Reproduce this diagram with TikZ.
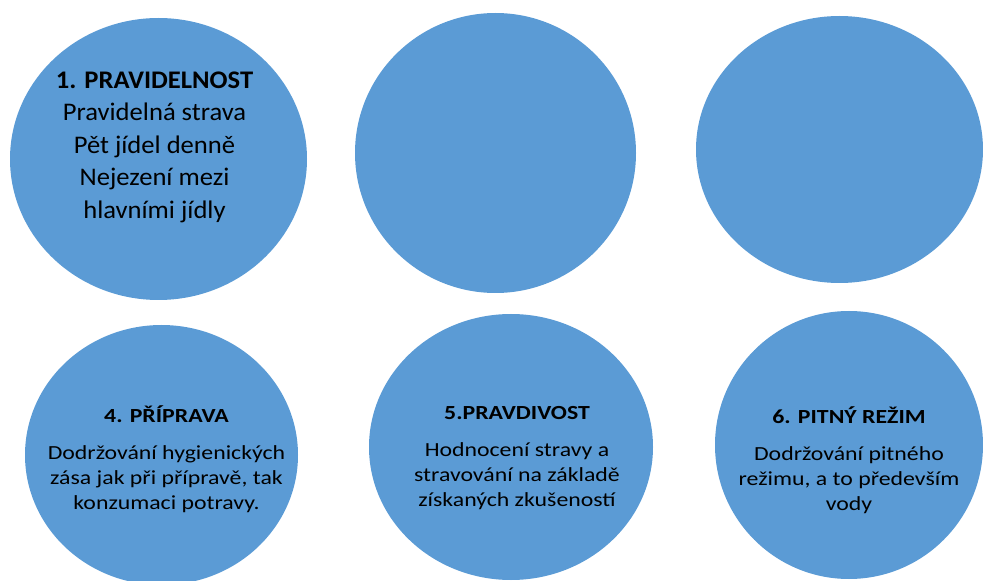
\documentclass[tikz,border=0pt]{standalone}
\usepackage{fontspec}
\setmainfont{Carlito}
\newfontfamily\bigfont[FakeStretch=1.05]{Carlito}
\newfontfamily\smallfont[FakeStretch=1.19]{Carlito}
\usetikzlibrary{shapes.geometric}
\definecolor{circblue}{RGB}{91,155,213}
\tikzset{
  circ/.style={ellipse, fill=circblue, draw=none, inner sep=0pt},
  bigtext/.style={align=center, inner sep=0.75pt, font=\bigfont\fontsize{19}{24.4}\selectfont},
  smalltext/.style={align=center, inner sep=0.75pt, font=\smallfont\fontsize{15}{18.75}\selectfont}
}

\begin{document}
\begin{tikzpicture}[x=0.75pt,y=0.75pt,yscale=-1,xscale=1]
\useasboundingbox (0,0) rectangle (983,581);

%Shape: Ellipse
\node [circ, minimum width=222.75pt, minimum height=211.5pt] (prav) at (158.5,159) {};
%Shape: Ellipse
\node [circ, minimum width=210.75pt, minimum height=210pt] (druhy) at (495.5,153) {};
%Shape: Ellipse
\node [circ, minimum width=215.25pt, minimum height=200.25pt] (treti) at (839.5,149.5) {};
%Shape: Ellipse
\node [circ, minimum width=204.75pt, minimum height=195pt] (prip) at (161.5,455) {};
%Shape: Ellipse
\node [circ, minimum width=213pt, minimum height=199.5pt] (pravd) at (511,447) {};
%Shape: Ellipse
\node [circ, minimum width=201pt, minimum height=201pt] (pitny) at (849,445) {};

% Text Node
\node [bigtext] (pravtxt) at (154.5,147) {\textbf{1. PRAVIDELNOST}\\Pravidelná strava\\Pět jídel denně\\Nejezení mezi\\hlavními jídly};
% Text Node
\node [smalltext] (priptxt) at (166.5,459) {\textbf{4. PŘÍPRAVA}\\[9pt]Dodržování hygienických\\zása jak při přípravě, tak\\konzumaci potravy.};
% Text Node
\node [smalltext] (pravdtxt) at (517,458) {\textbf{5.PRAVDIVOST}\\[9pt]Hodnocení stravy a\\stravování na základě\\získaných zkušeností};
% Text Node
\node [smalltext] (pitnytxt) at (849,460) {\textbf{6. PITNÝ REŽIM}\\[9pt]Dodržování pitného\\režimu, a to především\\vody};

\end{tikzpicture}
\end{document}
